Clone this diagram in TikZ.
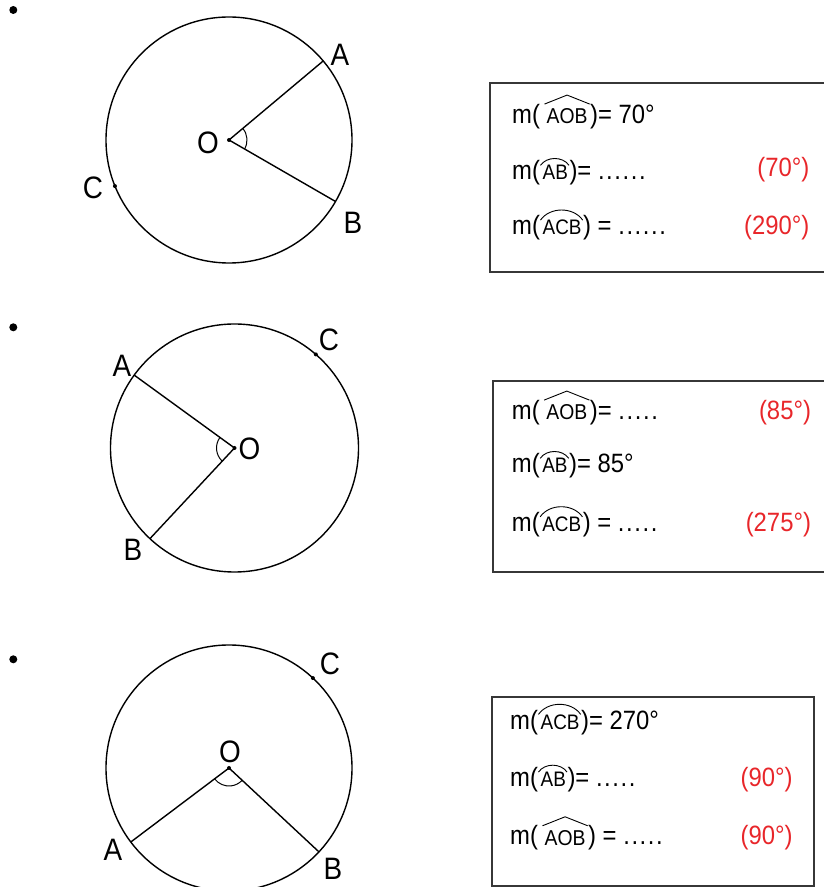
\documentclass[tikz,border=0pt]{standalone}
\usepackage{fontspec}
\setmainfont{Liberation Sans}[FakeStretch=0.9]
\usetikzlibrary{positioning}

\definecolor{ansred}{RGB}{232,38,42}
\definecolor{boxgray}{RGB}{55,55,55}

% arc and hat over a few letters
\newcommand{\arcover}[1]{\tikz[baseline=(w.base)]{\node[inner sep=0pt,anchor=center] (w) {\fontsize{21}{22}\selectfont #1}; \draw[line width=0.9pt] ([xshift=-2pt]w.north west) to[out=55,in=125] ([xshift=1pt]w.north east);}}
\newcommand{\hatover}[1]{\tikz[baseline=(w.base)]{\node[inner sep=0pt,anchor=center] (w) {\fontsize{21.5}{22}\selectfont #1}; \draw[line width=0.9pt] ([shift={(-2pt,4pt)}]w.north west) -- ([yshift=13pt]w.north) -- ([shift={(2pt,4pt)}]w.north east);}}
\newcommand{\dotrow}[1]{\foreach \dn in {1,...,#1}{.\kern1.6pt}}

\tikzset{
  eq/.style={anchor=base west, inner sep=0pt, font=\fontsize{26.5}{30}\selectfont},
  ans/.style={anchor=base east, inner sep=0pt, text=ansred, font=\fontsize{26.5}{30}\selectfont},
  pt/.style={font=\fontsize{31}{34}\selectfont, inner sep=0pt},
  box/.style={draw=boxgray, line width=1.8pt}
}

\begin{document}
\begin{tikzpicture}[x=1pt,y=1pt,line width=1.4pt]
  \useasboundingbox (0,0) rectangle (824,887);

  % first circle
  \fill (13.3,877) circle (4);
  \coordinate (O1) at (229,747);
  \draw (O1) circle (123);
  \draw (O1) -- ++(40:123) coordinate (A1);
  \draw (O1) -- ++(-30:123) coordinate (B1);
  \path (O1) ++(202:123) coordinate (C1);
  \fill (O1) circle (2) (C1) circle (2);
  \draw[line width=1pt] ([shift={(40:18)}]O1) arc (40:-30:18);
  \node[pt] (lA1) at (340,832) {A};
  \node[pt] (lB1) at (353,664) {B};
  \node[pt] (lC1) at (93,699.5) {C};
  \node[pt] (lO1) at (208,743.7) {O};

  \draw[box] (490,804.3) rectangle (830,615.3);
  \node[eq] (t11) at (512,763.7) {m(\kern4pt\hatover{AOB})= 70°};
  \node[eq] (t12) at (512,707) {m(\arcover{AB})= \dotrow{6}};
  \node[ans] (r12) at (810,710) {(70°)};
  \node[eq] (t13) at (512,652) {m(\arcover{ACB}) = \dotrow{6}};
  \node[ans] (r13) at (810,652) {(290°)};

  % second circle
  \fill (13.3,559.7) circle (4);
  \coordinate (O2) at (234.5,439);
  \draw (O2) circle (124);
  \draw (O2) -- ++(144:124) coordinate (A2);
  \draw (O2) -- ++(227:124) coordinate (B2);
  \path (O2) ++(49:124) coordinate (C2);
  \fill (O2) circle (2) (C2) circle (2);
  \draw[line width=1pt] ([shift={(144:18)}]O2) arc (144:227:18);
  \node[pt] (lA2) at (122,521.5) {A};
  \node[pt] (lB2) at (133,337) {B};
  \node[pt] (lC2) at (329,547) {C};
  \node[pt] (lO2) at (249.5,438.3) {O};

  \draw[box] (493.3,506) rectangle (830,315.3);
  \node[eq] (t21) at (511.7,467.7) {m(\kern4pt\hatover{AOB})= \dotrow{5}};
  \node[ans] (r21) at (811.7,467.7) {(85°)};
  \node[eq] (t22) at (511.7,414) {m(\arcover{AB})= 85°};
  \node[eq] (t23) at (511.7,355.3) {m(\arcover{ACB}) = \dotrow{5}};
  \node[ans] (r23) at (811.7,355.3) {(275°)};

  % third circle
  \fill (13.3,227.7) circle (4);
  \coordinate (O3) at (229,119);
  \draw (O3) circle (123);
  \draw (O3) -- ++(217:123) coordinate (A3);
  \draw (O3) -- ++(317:123) coordinate (B3);
  \path (O3) ++(47:123) coordinate (C3);
  \fill (O3) circle (2) (C3) circle (2);
  \draw[line width=1pt] ([shift={(217:18)}]O3) arc (217:317:18);
  \node[pt] (lA3) at (113,37.3) {A};
  \node[pt] (lB3) at (333,18) {B};
  \node[pt] (lC3) at (330,223) {C};
  \node[pt] (lO3) at (230,135.3) {O};

  \draw[box] (492.3,190.3) rectangle (814.3,1);
  \node[eq] (t31) at (510,157.7) {m(\arcover{ACB})= 270°};
  \node[eq] (t32) at (510,100.3) {m(\arcover{AB})= \dotrow{5}};
  \node[ans] (r32) at (793.3,100.3) {(90°)};
  \node[eq] (t33) at (510,42) {m(\kern4pt\hatover{AOB}) = \dotrow{5}};
  \node[ans] (r33) at (793.3,42) {(90°)};
\end{tikzpicture}
\end{document}
